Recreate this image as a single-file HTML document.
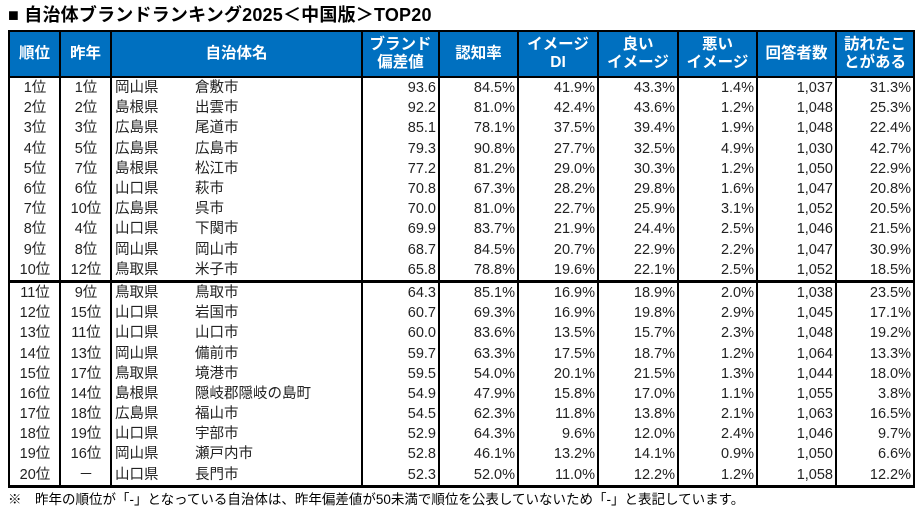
<!DOCTYPE html>
<html><head><meta charset="utf-8"><style>
body{margin:0;width:921px;height:511px;background:#fff;font-family:"Liberation Sans","Noto Sans CJK JP",sans-serif;position:relative;overflow:hidden}
.t{position:absolute;left:8px;top:1px;font-size:18px;font-weight:bold;color:#000;white-space:nowrap;letter-spacing:0.2px}
table{position:absolute;left:8px;top:30px;border-collapse:collapse;table-layout:fixed;width:905px}
td,th{padding:0 3px;font-size:14.5px;color:#222;white-space:nowrap;overflow:hidden}
th{background:#0070C0;color:#fff;font-weight:bold;height:44px;line-height:18px;font-size:15.5px;border:2px solid #000;text-align:center}
td{height:20.2px;line-height:20px;border-left:2px solid #000;border-right:2px solid #000;text-align:right;padding-right:2px}
td.c{text-align:center}
td.n{text-align:left;padding-left:3px}
td.n span{display:inline-block;width:80px}
.d{border-right:2px dotted #000}
th.d{border-right:2px dotted #000}
tr.sep td{border-top:3px solid #000}
tr.last td{border-bottom:3px solid #000}
.f{position:absolute;left:8px;top:488px;font-size:13.5px;color:#000;white-space:nowrap}
</style></head><body>
<div class="t">■ 自治体ブランドランキング2025＜中国版＞TOP20</div>
<table>
<colgroup><col style="width:51px"><col style="width:51px"><col style="width:251px"><col style="width:77px"><col style="width:79px"><col style="width:80px"><col style="width:80px"><col style="width:79px"><col style="width:79px"><col style="width:78px"></colgroup>
<tr><th>順位</th><th>昨年</th><th>自治体名</th><th>ブランド<br>偏差値</th><th>認知率</th><th>イメージ<br>DI</th><th class="d">良い<br>イメージ</th><th>悪い<br>イメージ</th><th>回答者数</th><th>訪れたこ<br>とがある</th></tr>
<tr><td class="c">1位</td><td class="c">1位</td><td class="n"><span>岡山県</span>倉敷市</td><td>93.6</td><td>84.5%</td><td>41.9%</td><td class="d">43.3%</td><td>1.4%</td><td>1,037</td><td>31.3%</td></tr>
<tr><td class="c">2位</td><td class="c">2位</td><td class="n"><span>島根県</span>出雲市</td><td>92.2</td><td>81.0%</td><td>42.4%</td><td class="d">43.6%</td><td>1.2%</td><td>1,048</td><td>25.3%</td></tr>
<tr><td class="c">3位</td><td class="c">3位</td><td class="n"><span>広島県</span>尾道市</td><td>85.1</td><td>78.1%</td><td>37.5%</td><td class="d">39.4%</td><td>1.9%</td><td>1,048</td><td>22.4%</td></tr>
<tr><td class="c">4位</td><td class="c">5位</td><td class="n"><span>広島県</span>広島市</td><td>79.3</td><td>90.8%</td><td>27.7%</td><td class="d">32.5%</td><td>4.9%</td><td>1,030</td><td>42.7%</td></tr>
<tr><td class="c">5位</td><td class="c">7位</td><td class="n"><span>島根県</span>松江市</td><td>77.2</td><td>81.2%</td><td>29.0%</td><td class="d">30.3%</td><td>1.2%</td><td>1,050</td><td>22.9%</td></tr>
<tr><td class="c">6位</td><td class="c">6位</td><td class="n"><span>山口県</span>萩市</td><td>70.8</td><td>67.3%</td><td>28.2%</td><td class="d">29.8%</td><td>1.6%</td><td>1,047</td><td>20.8%</td></tr>
<tr><td class="c">7位</td><td class="c">10位</td><td class="n"><span>広島県</span>呉市</td><td>70.0</td><td>81.0%</td><td>22.7%</td><td class="d">25.9%</td><td>3.1%</td><td>1,052</td><td>20.5%</td></tr>
<tr><td class="c">8位</td><td class="c">4位</td><td class="n"><span>山口県</span>下関市</td><td>69.9</td><td>83.7%</td><td>21.9%</td><td class="d">24.4%</td><td>2.5%</td><td>1,046</td><td>21.5%</td></tr>
<tr><td class="c">9位</td><td class="c">8位</td><td class="n"><span>岡山県</span>岡山市</td><td>68.7</td><td>84.5%</td><td>20.7%</td><td class="d">22.9%</td><td>2.2%</td><td>1,047</td><td>30.9%</td></tr>
<tr><td class="c">10位</td><td class="c">12位</td><td class="n"><span>鳥取県</span>米子市</td><td>65.8</td><td>78.8%</td><td>19.6%</td><td class="d">22.1%</td><td>2.5%</td><td>1,052</td><td>18.5%</td></tr>
<tr class="sep"><td class="c">11位</td><td class="c">9位</td><td class="n"><span>鳥取県</span>鳥取市</td><td>64.3</td><td>85.1%</td><td>16.9%</td><td class="d">18.9%</td><td>2.0%</td><td>1,038</td><td>23.5%</td></tr>
<tr><td class="c">12位</td><td class="c">15位</td><td class="n"><span>山口県</span>岩国市</td><td>60.7</td><td>69.3%</td><td>16.9%</td><td class="d">19.8%</td><td>2.9%</td><td>1,045</td><td>17.1%</td></tr>
<tr><td class="c">13位</td><td class="c">11位</td><td class="n"><span>山口県</span>山口市</td><td>60.0</td><td>83.6%</td><td>13.5%</td><td class="d">15.7%</td><td>2.3%</td><td>1,048</td><td>19.2%</td></tr>
<tr><td class="c">14位</td><td class="c">13位</td><td class="n"><span>岡山県</span>備前市</td><td>59.7</td><td>63.3%</td><td>17.5%</td><td class="d">18.7%</td><td>1.2%</td><td>1,064</td><td>13.3%</td></tr>
<tr><td class="c">15位</td><td class="c">17位</td><td class="n"><span>鳥取県</span>境港市</td><td>59.5</td><td>54.0%</td><td>20.1%</td><td class="d">21.5%</td><td>1.3%</td><td>1,044</td><td>18.0%</td></tr>
<tr><td class="c">16位</td><td class="c">14位</td><td class="n"><span>島根県</span>隠岐郡隠岐の島町</td><td>54.9</td><td>47.9%</td><td>15.8%</td><td class="d">17.0%</td><td>1.1%</td><td>1,055</td><td>3.8%</td></tr>
<tr><td class="c">17位</td><td class="c">18位</td><td class="n"><span>広島県</span>福山市</td><td>54.5</td><td>62.3%</td><td>11.8%</td><td class="d">13.8%</td><td>2.1%</td><td>1,063</td><td>16.5%</td></tr>
<tr><td class="c">18位</td><td class="c">19位</td><td class="n"><span>山口県</span>宇部市</td><td>52.9</td><td>64.3%</td><td>9.6%</td><td class="d">12.0%</td><td>2.4%</td><td>1,046</td><td>9.7%</td></tr>
<tr><td class="c">19位</td><td class="c">16位</td><td class="n"><span>岡山県</span>瀬戸内市</td><td>52.8</td><td>46.1%</td><td>13.2%</td><td class="d">14.1%</td><td>0.9%</td><td>1,050</td><td>6.6%</td></tr>
<tr class="last"><td class="c">20位</td><td class="c">－</td><td class="n"><span>山口県</span>長門市</td><td>52.3</td><td>52.0%</td><td>11.0%</td><td class="d">12.2%</td><td>1.2%</td><td>1,058</td><td>12.2%</td></tr>
</table>
<div class="f">※　昨年の順位が「-」となっている自治体は、昨年偏差値が50未満で順位を公表していないため「-」と表記しています。</div>
</body></html>
